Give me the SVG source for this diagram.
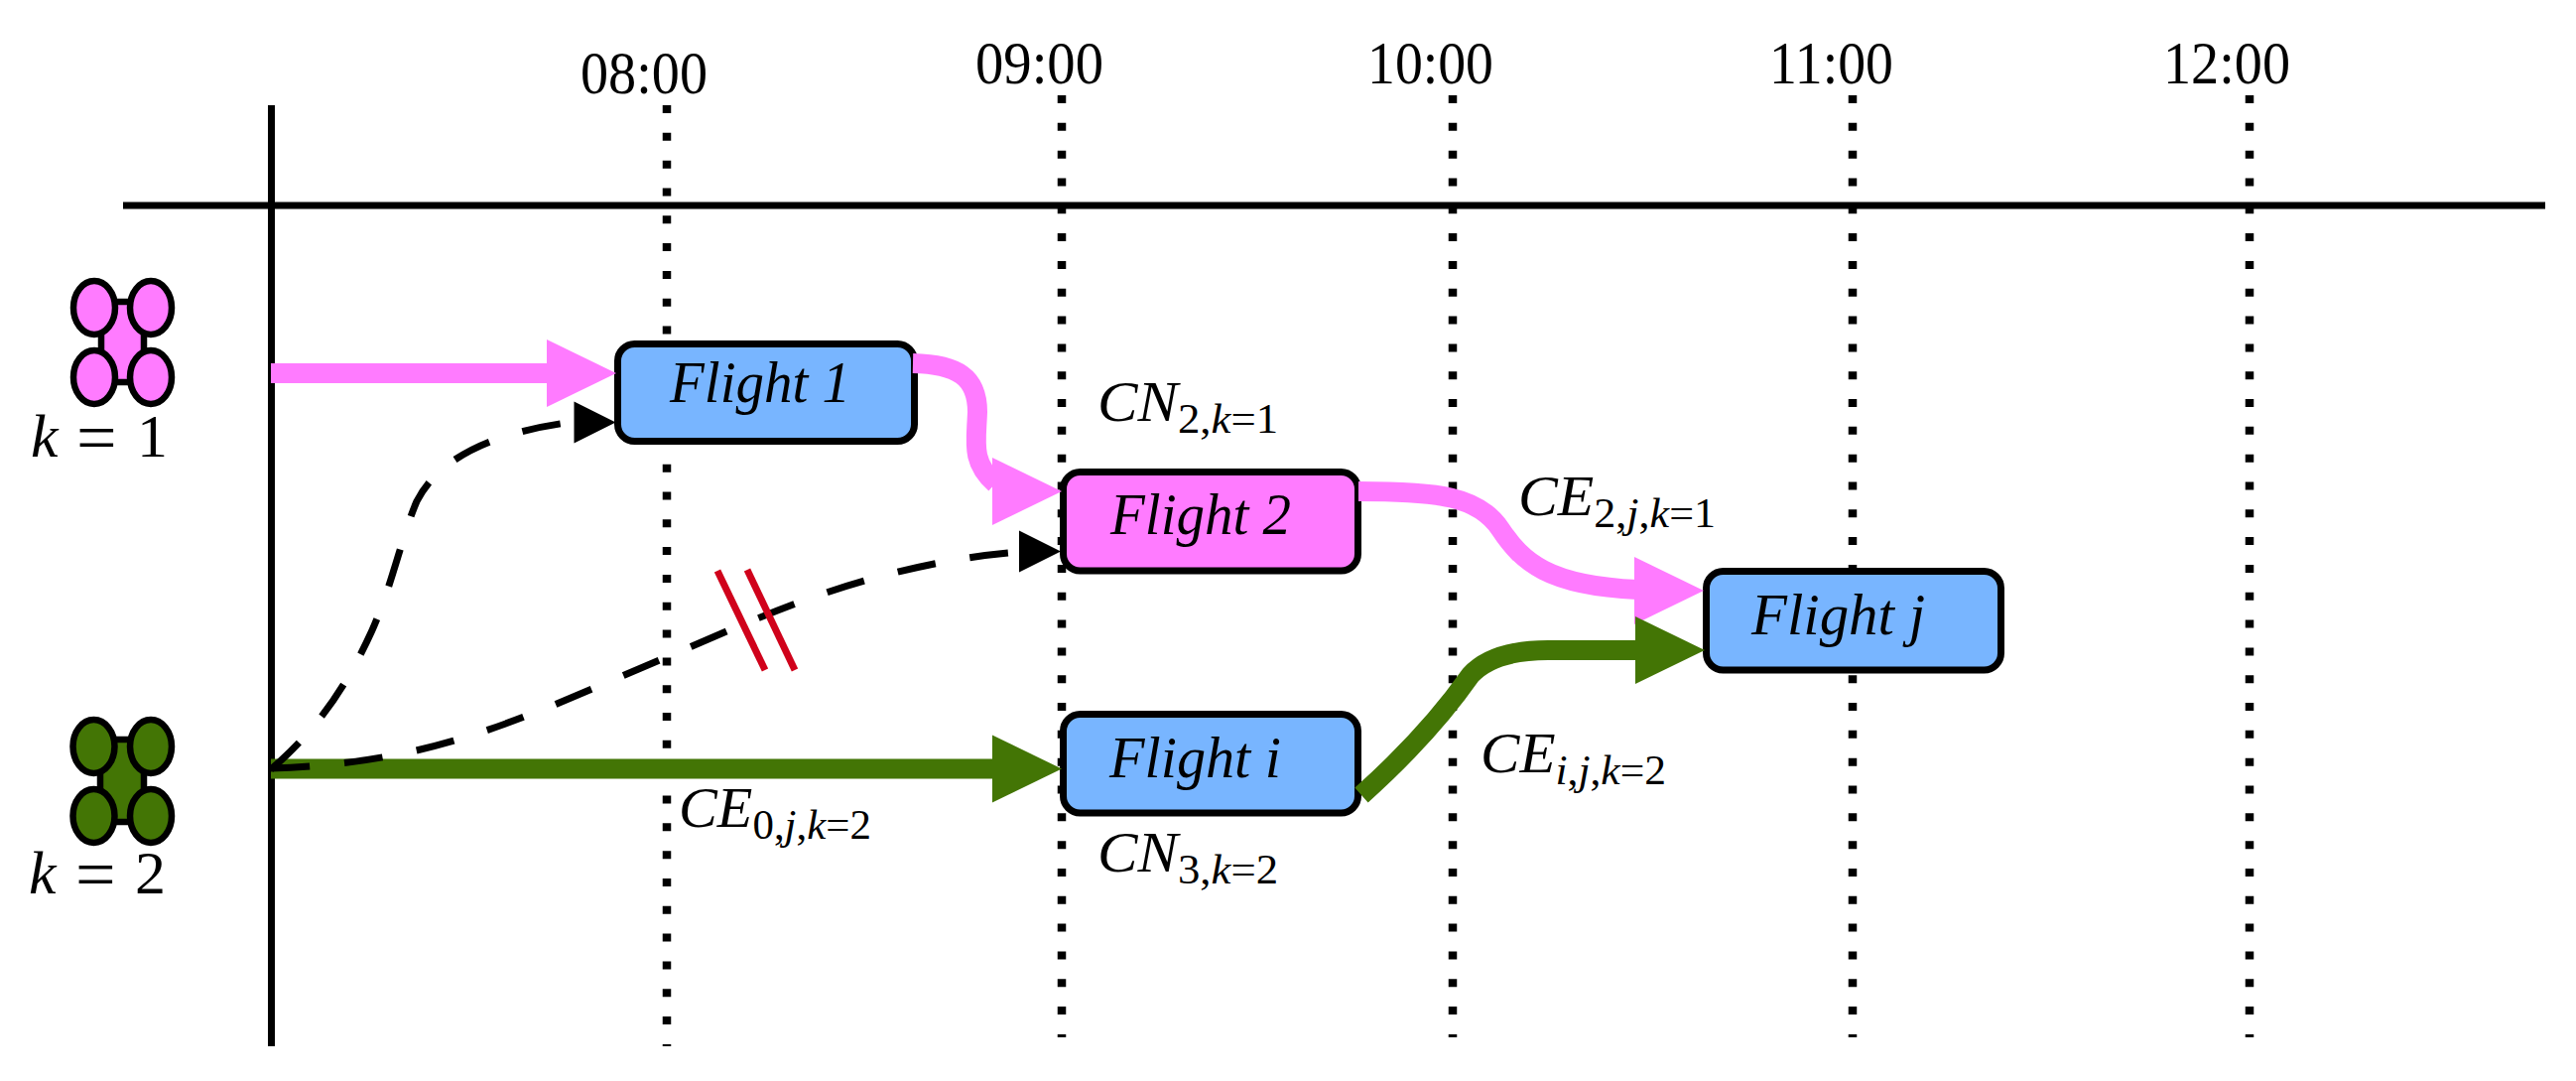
<svg xmlns="http://www.w3.org/2000/svg" width="2596" height="1089" viewBox="0 0 2596 1089">
<style>
text{font-family:"Liberation Serif","Times New Roman",serif;fill:#000}
.time{font-size:61px}
.flight{font-size:59px;font-style:italic}
.math{font-size:57px}
.i{font-style:italic}
.sub{font-size:42px}
.axis{stroke:#000;stroke-width:7;fill:none}
.tick{stroke:#000;stroke-width:8.500;stroke-dasharray:8 19.82;fill:none}
.box{stroke:#000;stroke-width:7}
.blue{fill:#78B5FF}
.pink{fill:#FF7BFF}
.green{fill:#437505}
.drone{stroke:#000;stroke-width:6.5}
.edge{fill:none;stroke-width:20}
.sp{stroke:#FF7BFF}
.sg{stroke:#437505}
.dash{fill:none;stroke:#000;stroke-width:7;stroke-dasharray:39 35}
.cut{stroke:#D0021B;stroke-width:7}
</style>
<defs>
<polygon id="head" points="0,-34 70,0 0,34"/>
<polygon id="headBlack" points="0,-21 42,0 0,21"/>
</defs>
<g id="timeline">
<path class="tick" d="M672,106V1054"/>
<path class="tick" d="M1070,96V1045"/>
<path class="tick" d="M1464,96V1045"/>
<path class="tick" d="M1867,96V1045"/>
<path class="tick" d="M2267,96V1045"/>
<path class="axis" d="M124,207H2565"/>
<path class="axis" d="M273.500,106V1054"/>
<text class="time" x="585" y="94" textLength="128" lengthAdjust="spacingAndGlyphs">08:00</text>
<text class="time" x="983" y="84" textLength="129" lengthAdjust="spacingAndGlyphs">09:00</text>
<text class="time" x="1378" y="84" textLength="127" lengthAdjust="spacingAndGlyphs">10:00</text>
<text class="time" x="1783" y="84" textLength="125" lengthAdjust="spacingAndGlyphs">11:00</text>
<text class="time" x="2180" y="84" textLength="128" lengthAdjust="spacingAndGlyphs">12:00</text>
</g>
<g id="drone-k1">
<rect class="drone pink" x="102" y="304" width="43" height="81"/>
<ellipse class="drone pink" cx="95" cy="310" rx="21" ry="27"/>
<ellipse class="drone pink" cx="152" cy="310" rx="21" ry="27"/>
<ellipse class="drone pink" cx="95" cy="380" rx="21" ry="27"/>
<ellipse class="drone pink" cx="152" cy="380" rx="21" ry="27"/>
<text font-size="62"><tspan class="i" x="31" y="460">k</tspan><tspan x="77" y="465" font-size="72">=</tspan><tspan x="138" y="460">1</tspan></text>
</g>
<g id="drone-k2">
<rect class="drone green" x="101" y="745" width="44" height="83"/>
<ellipse class="drone green" cx="94.500" cy="752" rx="21" ry="27"/>
<ellipse class="drone green" cx="152" cy="752" rx="21" ry="27"/>
<ellipse class="drone green" cx="94.500" cy="822" rx="21" ry="27"/>
<ellipse class="drone green" cx="152" cy="822" rx="21" ry="27"/>
<text font-size="62"><tspan class="i" x="29" y="900">k</tspan><tspan x="76" y="905" font-size="72">=</tspan><tspan x="136" y="900">2</tspan></text>
</g>
<g id="flight-1">
<rect class="box blue" x="622.500" y="346.500" width="299" height="98" rx="17"/>
<text class="flight" x="675" y="405" textLength="182" lengthAdjust="spacingAndGlyphs">Flight 1</text>
</g>
<g id="flight-2">
<rect class="box pink" x="1071.500" y="475.500" width="297" height="99.500" rx="17"/>
<text class="flight" x="1119" y="538" textLength="182" lengthAdjust="spacingAndGlyphs">Flight 2</text>
</g>
<g id="flight-i">
<rect class="box blue" x="1071.500" y="719.500" width="297" height="99.500" rx="17"/>
<text class="flight" x="1118" y="783" textLength="173" lengthAdjust="spacingAndGlyphs">Flight i</text>
</g>
<g id="flight-j">
<rect class="box blue" x="1719.500" y="575.500" width="297" height="99.500" rx="17"/>
<text class="flight" x="1765" y="639" textLength="175" lengthAdjust="spacingAndGlyphs">Flight j</text>
</g>
<g id="connectors">
<g id="edge-start-1"><path class="edge sp" d="M273,376H552"/><use href="#head" class="pink" transform="translate(551,376)"/></g>
<g id="edge-1-2"><path class="edge sp" d="M920,366C965,367 985,380 985,415C984,445 978,465 1003,487"/><use href="#head" class="pink" transform="translate(1000,495)"/></g>
<g id="edge-2-j"><path class="edge sp" d="M1369,495C1450,495 1490,500 1512,533C1534,566 1560,590 1650,594"/><use href="#head" class="pink" transform="translate(1647,595)"/></g>
<g id="edge-start-i"><path class="edge sg" d="M273,774.500H1001"/><use href="#head" class="green" transform="translate(1000,774.500)"/></g>
<g id="edge-i-j"><path class="edge sg" d="M1372,801Q1440,740 1482,680Q1505,655 1560,655H1650"/><use href="#head" class="green" transform="translate(1648,655)"/></g>
<g id="edge-dash-1"><path class="dash" d="M273,775C320,735 350,690 375,635C395,590 405,540 420,505C440,465 490,436 578,425"/><use href="#headBlack" transform="translate(578.500,425.500)"/></g>
<g id="edge-dash-2"><path class="dash" d="M273,774C340,772 400,763 458,746C530,725 600,692 667,664C740,633 800,605 875,584C925,570 975,560 1028,556"/><use href="#headBlack" transform="translate(1027,555.500)"/></g>
<path id="cut-a" class="cut" d="M723,575L771,675"/>
<path id="cut-b" class="cut" d="M753,574L801,675"/>
</g>
<g id="labels">
<text class="math" x="1106" y="424" textLength="182" lengthAdjust="spacingAndGlyphs"><tspan class="i">CN</tspan><tspan class="sub" dy="12">2,</tspan><tspan class="sub i">k</tspan><tspan class="sub">=1</tspan></text>
<text class="math" x="1530" y="519" textLength="199" lengthAdjust="spacingAndGlyphs"><tspan class="i">CE</tspan><tspan class="sub" dy="12">2,</tspan><tspan class="sub i">j</tspan><tspan class="sub">,</tspan><tspan class="sub i">k</tspan><tspan class="sub">=1</tspan></text>
<text class="math" x="684" y="833" textLength="194" lengthAdjust="spacingAndGlyphs"><tspan class="i">CE</tspan><tspan class="sub" dy="12">0,</tspan><tspan class="sub i">j</tspan><tspan class="sub">,</tspan><tspan class="sub i">k</tspan><tspan class="sub">=2</tspan></text>
<text class="math" x="1492" y="778" textLength="187" lengthAdjust="spacingAndGlyphs"><tspan class="i">CE</tspan><tspan class="sub i" dy="12">i</tspan><tspan class="sub">,</tspan><tspan class="sub i">j</tspan><tspan class="sub">,</tspan><tspan class="sub i">k</tspan><tspan class="sub">=2</tspan></text>
<text class="math" x="1106" y="878" textLength="182" lengthAdjust="spacingAndGlyphs"><tspan class="i">CN</tspan><tspan class="sub" dy="12">3,</tspan><tspan class="sub i">k</tspan><tspan class="sub">=2</tspan></text>
</g>
</svg>
